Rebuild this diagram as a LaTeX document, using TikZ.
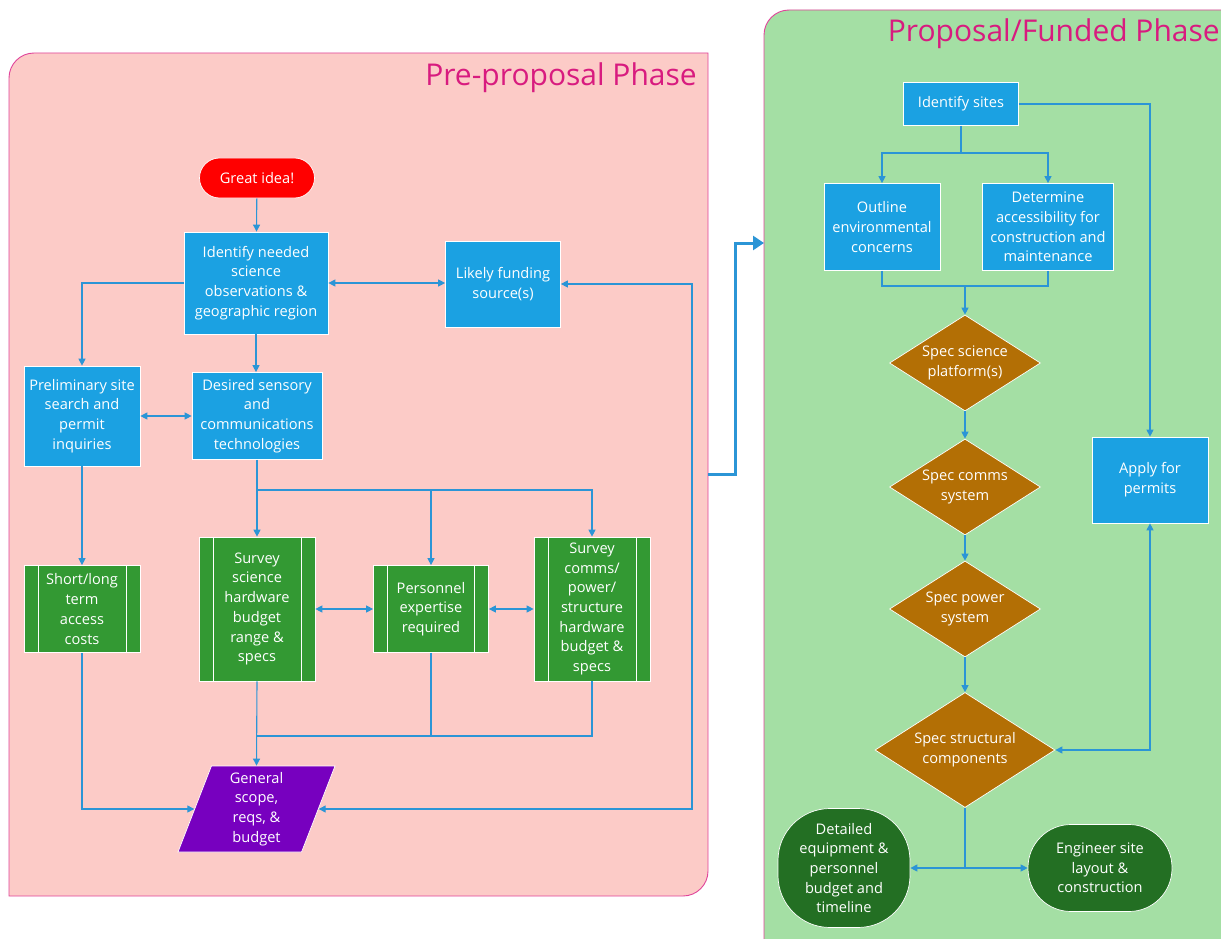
\documentclass[tikz,border=0pt]{standalone}
\usepackage{fontspec}
\setmainfont{Open Sans}
\usetikzlibrary{arrows.meta,shapes.geometric}

\definecolor{pinkbg}{HTML}{FCCBC7}
\definecolor{greenbg}{HTML}{A4DFA4}
\definecolor{panelline}{HTML}{E0449A}
\definecolor{titlecol}{HTML}{D81B7F}
\definecolor{boxblue}{HTML}{1BA1E2}
\definecolor{procgreen}{HTML}{339933}
\definecolor{termgreen}{HTML}{236F23}
\definecolor{decbrown}{HTML}{B36F05}
\definecolor{datapurple}{HTML}{7700BF}
\definecolor{startred}{HTML}{FF0000}
\definecolor{conncol}{HTML}{2B95D6}

\tikzset{
  >={Triangle[length=7pt,width=7pt]},
  base/.style={draw=white, line width=0.7pt, text=white, align=center, inner sep=0pt,
    font=\fontsize{14.6}{19.7}\selectfont},
  box/.style={base, rectangle, fill=boxblue},
  proc/.style={base, rectangle, fill=procgreen,
    path picture={
      \draw[white, line width=0.7pt]
        ([xshift=14pt]path picture bounding box.south west) -- ([xshift=14pt]path picture bounding box.north west)
        ([xshift=-14pt]path picture bounding box.south east) -- ([xshift=-14pt]path picture bounding box.north east);}},
  dia/.style={base, diamond, fill=decbrown, aspect=1.57},
  term/.style={base, rectangle, fill=termgreen},
  start/.style={base, rectangle, rounded corners=20pt, fill=startred},
  iodata/.style={base, trapezium, fill=datapurple, trapezium left angle=65.6,
    trapezium right angle=114.4, trapezium stretches body},
  conn/.style={draw=conncol, line width=1.1pt, ->},
  dconn/.style={draw=conncol, line width=1.1pt, <->},
  plain/.style={draw=conncol, line width=1.1pt},
  bigconn/.style={draw=conncol, line width=3pt, -{Triangle[length=11pt,width=14pt]}},
  phase/.style={fill=#1, draw=panelline, line width=0.9pt},
  phasetitle/.style={text=titlecol, inner sep=0pt, anchor=east, font=\fontsize{#1}{#1}\selectfont}
}

\begin{document}
\begin{tikzpicture}[x=1pt,y=-1pt]
\useasboundingbox (0,0) rectangle (1221,939);
\fill[white] (0,0) rectangle (1221,939);

% phase panels
\path[phase=pinkbg] (9,896) -- (9,78) .. controls (9,64.2) and (20.2,53) .. (34,53)
  -- (708,53) -- (708,871) .. controls (708,884.8) and (696.8,896) .. (683,896) -- cycle;
\path[phase=greenbg] (764,960) -- (764,35) .. controls (764,21.2) and (775.2,10) .. (789,10)
  -- (1240,10) -- (1240,960) -- cycle;
\node[phasetitle=30] (pretitle) at (697,78) {Pre-proposal Phase};
\node[phasetitle=30] (proptitle) at (1220,34) {Proposal/Funded Phase};
\coordinate (preout) at (708,474);
\coordinate (propin) at (764,243);
\draw[bigconn] (preout) -- ++(27,0) |- (propin);

% pre-proposal nodes
\node[start, minimum width=115, minimum height=40] (idea) at (257,178) {Great idea!};
\node[box, minimum width=144, minimum height=102] (ident) at (256,283)
  {Identify needed\\science\\observations \&\\geographic region};
\node[box, minimum width=115, minimum height=86] (fund) at (503,284) {Likely funding\\source(s)};
\node[box, minimum width=116, minimum height=100] (prelim) at (82,416)
  {Preliminary site\\search and\\permit\\inquiries};
\node[box, minimum width=130, minimum height=87] (desired) at (257,416)
  {Desired sensory\\and\\communications\\technologies};
\node[proc, minimum width=116, minimum height=87] (short) at (82,609)
  {Short/long\\term\\access\\costs};
\node[proc, minimum width=116, minimum height=144] (sci) at (257,609)
  {Survey\\science\\hardware\\budget\\range \&\\specs};
\node[proc, minimum width=115, minimum height=87] (pers) at (431,609)
  {Personnel\\expertise\\required};
\node[proc, minimum width=116, minimum height=144] (comms) at (592,609)
  {Survey\\comms/\\power/\\structure\\hardware\\budget \&\\specs};
\node[iodata, minimum width=157, minimum height=86] (gen) at (256.5,809)
  {General\\scope,\\reqs, \&\\budget};

% pre-proposal connectors
\draw[conn] (idea) -- (ident);
\draw[dconn] (ident.east) -- (fund.west |- ident.east);
\draw[conn] (ident.west) -| (prelim.north);
\draw[conn] (ident.south) -- (ident.south |- desired.north);
\draw[dconn] (prelim.east |- desired.west) -- (desired.west);
\draw[conn] (prelim) -- (short);
\coordinate (dsplit) at (257,490);
\draw[conn] (desired.south) -- (sci.north);
\draw[conn] (dsplit) -| (pers.north);
\draw[conn] (dsplit) -| (comms.north);
\draw[dconn] (sci) -- (pers);
\draw[dconn] (pers) -- (comms);
\coordinate (gmerge) at (257,736);
\draw[plain] (pers.south) |- (gmerge);
\draw[plain] (comms.south) |- (gmerge);
\draw[conn] (sci.south) -- (gen.north);
\draw[conn] (short.south) |- (gen.west);
\coordinate (fundturn) at (692,284);
\draw[dconn] (fund.east) -- (fundturn) |- (gen.east);

% proposal/funded nodes
\node[box, minimum width=115, minimum height=43] (sites) at (961,104) {Identify sites};
\node[box, minimum width=116, minimum height=87] (outline) at (882,227)
  {Outline\\environmental\\concerns};
\node[box, minimum width=131, minimum height=87] (determine) at (1048,227)
  {Determine\\accessibility for\\construction and\\maintenance};
\node[dia, minimum width=151, minimum height=96] (plat) at (965,363) {Spec science\\platform(s)};
\node[dia, minimum width=151, minimum height=96] (commsys) at (965,487) {Spec comms\\system};
\node[dia, minimum width=151, minimum height=96] (power) at (965,609) {Spec power\\system};
\node[dia, minimum width=180, minimum height=115] (struct) at (965,750) {Spec structural\\components};
\node[box, minimum width=116, minimum height=86] (permit) at (1150,480) {Apply for\\permits};
\node[term, rounded corners=52pt, minimum width=132, minimum height=119] (detail) at (844,868)
  {Detailed\\equipment \&\\personnel\\budget and\\timeline};
\node[term, rounded corners=43pt, minimum width=144, minimum height=87] (eng) at (1100,868)
  {Engineer site\\layout \&\\construction};

% proposal/funded connectors
\coordinate (ssplit) at (961,153);
\draw[plain] (sites.south) -- (ssplit);
\draw[conn] (ssplit) -| (outline.north);
\draw[conn] (ssplit) -| (determine.north);
\coordinate (omerge) at (965,286);
\draw[plain] (outline.south) |- (omerge);
\draw[plain] (determine.south) |- (omerge);
\draw[conn] (omerge) -- (plat.north);
\draw[conn] (plat) -- (commsys);
\draw[conn] (commsys) -- (power);
\draw[conn] (power) -- (struct);
\draw[conn] (sites.east) -| (permit.north);
\draw[dconn] (permit.south) |- (struct.east);
\coordinate (smerge) at (965,868);
\draw[plain] (struct.south) -- (smerge);
\draw[conn] (smerge) -- (detail.east);
\draw[conn] (smerge) -- (eng.west);
\end{tikzpicture}
\end{document}
